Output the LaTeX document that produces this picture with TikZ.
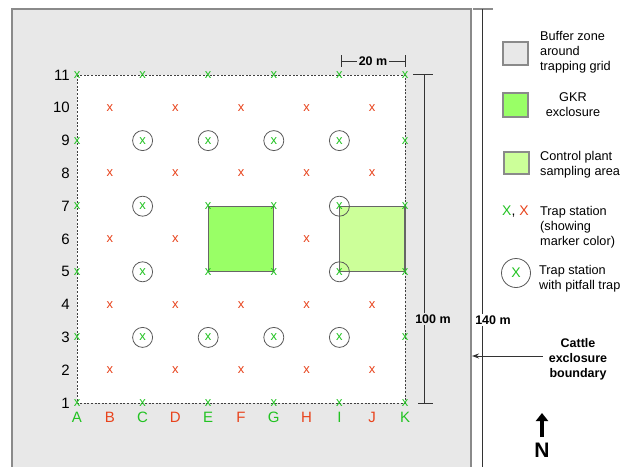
\documentclass[tikz,border=0pt]{standalone}
\usepackage{fontspec}
\setmainfont{Liberation Sans}
\usetikzlibrary{arrows.meta}
\definecolor{mgreen}{HTML}{22C322}
\definecolor{mred}{HTML}{E8431C}
\definecolor{bufferc}{HTML}{E8E8E8}
\definecolor{gkrc}{HTML}{99FF66}
\definecolor{ctrlc}{HTML}{CCFF99}
\definecolor{edgec}{HTML}{8A8A8A}
\definecolor{dimc}{HTML}{333333}
\begin{document}
\begin{tikzpicture}[x=1pt,y=-1pt,
  greenx/.style={inner sep=0pt, text=mgreen, font=\fontsize{13}{13}\selectfont},
  redx/.style={inner sep=0pt, text=mred, font=\fontsize{13}{13}\selectfont},
  circ/.style={draw=black!65, line width=0.8pt},
  rowlab/.style={inner sep=0pt, anchor=east, font=\fontsize{15}{15}\selectfont},
  collab/.style={inner sep=0pt, font=\fontsize{15}{15}\selectfont},
  legtext/.style={inner sep=0pt, anchor=west, align=left, font=\fontsize{12.7}{15}\selectfont},
  legbox/.style={draw=edgec, line width=1.2pt},
  dim/.style={draw=dimc, line width=0.9pt},
  dimlab/.style={inner sep=1.5pt, font=\bfseries\fontsize{12.5}{15}\selectfont},
  sq/.style={draw=black!60, line width=1.1pt}
]
\useasboundingbox (0,0) rectangle (621,466);
\clip (0,0) rectangle (621,466);
\fill[white] (0,0) rectangle (621,466);

% buffer zone
\draw[draw=edgec, fill=bufferc, line width=1.5pt] (12,480) -- (12,9) -- (471,9) -- (471,480);

% grid coordinates
\foreach \c [count=\n from 0] in {A,B,C,D,E,F,G,H,I,J,K}
  \foreach \r in {1,...,11}
    \coordinate (\c\r) at ({77+32.8*\n},{403-32.8*(\r-1)});

% trapping grid
\fill[white] (A11) rectangle (K1);
\draw[black!75, line width=0.6pt, dash pattern=on 2pt off 1.6pt] (A11) rectangle (K1);

% GKR exclosure and control area
\draw[sq, fill=gkrc] (E7) rectangle (G5);
\draw[sq, fill=ctrlc] (I7) rectangle (K5);

% pitfall circles
\foreach \p in {C9,E9,G9,I9,C7,I7,C5,I5,C3,E3,G3,I3}
  \draw[circ] (\p) circle[radius=10];

% green stations
\foreach \c in {A,C,E,G,I,K}
  \foreach \r in {11,9,7,5,3,1}
    \node[greenx] (m-\c\r) at (\c\r) {x};
% red stations
\foreach \c in {B,D,F,H,J}
  \foreach \r in {10,8,4,2}
    \node[redx] (m-\c\r) at (\c\r) {x};
\foreach \p in {B6,D6,H6}
  \node[redx] (m-\p) at (\p) {x};

% row labels
\foreach \r in {1,...,11}
  \node[rowlab] (row-\r) at ([xshift=-7pt]A\r) {\r};
% column labels
\foreach \c in {A,C,E,G,I,K}
  \node[collab, text=mgreen] (col-\c) at ([yshift=-14pt]\c1) {\c};
\foreach \c in {B,D,F,H,J}
  \node[collab, text=mred] (col-\c) at ([yshift=-14pt]\c1) {\c};

% 20 m dimension
\coordinate (d20l) at (341,61);
\coordinate (d20r) at (405,61);
\draw[dim] (341,55) -- (341,67);
\draw[dim] (405,55) -- (405,67);
\draw[dim] (d20l) -- (d20r);
\node[dimlab, fill=bufferc] (l20) at (373,61) {20 m};

% 100 m dimension
\coordinate (d100t) at (424,74);
\coordinate (d100b) at (424,403);
\draw[dim] (413,74) -- (433,74);
\draw[dim] (418,403) -- (433,403);
\draw[dim] (d100t) -- (d100b);
\node[dimlab, fill=bufferc] (l100) at (433,319) {100 m};

% 140 m dimension
\coordinate (d140t) at (482,9);
\coordinate (d140b) at (482,470);
\draw[draw=black!45, line width=1.2pt] (473,9) -- (493,9);
\draw[dim] (d140t) -- (d140b);
\node[dimlab, fill=white] (l140) at (493,320) {140 m};

% cattle exclosure boundary
\node[inner sep=0pt, align=center, font=\bfseries\fontsize{12.5}{14.8}\selectfont] (cattle) at (578,359) {Cattle\\exclosure\\boundary};
\coordinate (bnd) at (472,356);
\draw[dim, -{Stealth[length=7pt,width=5pt]}] ([xshift=-6pt]cattle.west |- bnd) -- (bnd);

% north arrow
\coordinate (nb) at (542,437);
\coordinate (nt) at (542,413);
\draw[line width=3.2pt, -{Triangle[length=8pt,width=12pt]}] (nb) -- (nt);
\node[inner sep=0pt, font=\bfseries\fontsize{21}{21}\selectfont] (north) at (542,450) {N};

% legend
\draw[legbox, fill=bufferc] (503,42) rectangle (528,65);
\node[legtext] (lg-buf) at (540,52) {Buffer zone\\around\\trapping grid};
\draw[legbox, fill=gkrc] (503,93) rectangle (528,117);
\node[inner sep=0pt, align=center, font=\fontsize{12.7}{15}\selectfont] (lg-gkr) at (573,105) {GKR\\exclosure};
\draw[legbox, fill=ctrlc] (504,152) rectangle (529,174);
\node[legtext] (lg-ctrl) at (540,165) {Control plant\\sampling area};
\node[inner sep=0pt, anchor=west, font=\fontsize{14}{14}\selectfont] (lg-x) at (502,212) {\textcolor{mgreen}{X}, \textcolor{mred}{X}};
\node[legtext] (lg-trap) at (540,227) {Trap station\\(showing\\marker color)};
\draw[circ] (516,273) circle[radius=14.5];
\node[inner sep=0pt, text=mgreen, font=\fontsize{14}{14}\selectfont] (lg-cx) at (516,273) {X};
\node[legtext] (lg-pit) at (539,279) {Trap station\\with pitfall trap};
\end{tikzpicture}
\end{document}
